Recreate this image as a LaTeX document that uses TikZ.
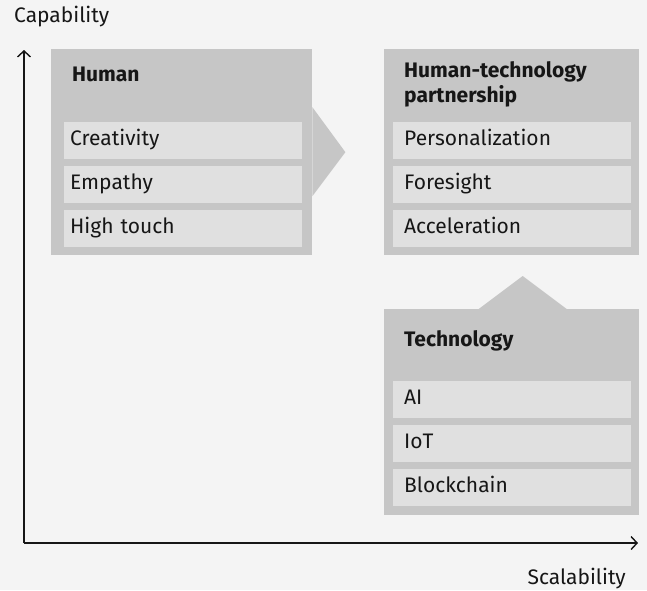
\documentclass[tikz,border=0pt]{standalone}
\usepackage{fontspec}
\setmainfont{Fira Sans}
\usetikzlibrary{arrows.meta}
\definecolor{bgcol}{HTML}{F4F4F4}
\definecolor{groupcol}{HTML}{C6C6C6}
\definecolor{itemcol}{HTML}{E0E0E0}
\definecolor{inkcol}{HTML}{161616}
\begin{document}
\begin{tikzpicture}[x=1pt, y=-1pt, >={Straight Barb[length=6pt,width=13pt]}]
        \tikzstyle{group}=[fill=groupcol, anchor=north west, minimum width=255pt, minimum height=206pt, inner sep=0pt]
        \tikzstyle{item}=[fill=itemcol, anchor=north west, minimum width=238pt, minimum height=37pt, text height=14pt, text depth=4pt, align=left, font=\fontsize{21}{24}\selectfont, text=inkcol]
        \tikzstyle{title}=[anchor=base west, inner sep=0pt, align=left, font=\fontsize{21}{25}\selectfont\bfseries, text=inkcol]
        \tikzstyle{axislabel}=[inner sep=0pt, font=\fontsize{21}{24}\selectfont, text=inkcol]

        \fill[bgcol] (0,0) rectangle (647,590);
        \useasboundingbox (0,0) rectangle (647,590);

        % groups, with their pointers
        \node[group, minimum width=261pt](human) at (51,49){};
        \fill[groupcol] (human.east) ++(0,-45) -- ++(33,45) -- ++(-33,44) -- cycle;
        \node[group](partner) at (384,49){};
        \node[group](tech) at (384,309){};
        \fill[groupcol] (tech.north) ++(-33,0) -- ++(44,-33) -- ++(44,33) -- cycle;

        \node[title](humantitle) at (72,81){Human};
        \node[title, anchor=north west, text depth=0pt](partnertitle) at (404,61){Human-technology\\partnership};
        \node[title](techtitle) at (404,346){Technology};

        \node[item, text width=226pt, inner xsep=6pt](creativity) at (64,122){Creativity};
        \node[item, text width=226pt, inner xsep=6pt](empathy) at (64,166){Empathy};
        \node[item, text width=226pt, inner xsep=6pt](hightouch) at (64,210){High touch};

        \node[item, text width=216pt, inner xsep=11pt](personal) at (393,122){Personalization};
        \node[item, text width=216pt, inner xsep=11pt](foresight) at (393,166){Foresight};
        \node[item, text width=216pt, inner xsep=11pt](accel) at (393,210){Acceleration};

        \node[item, text width=216pt, inner xsep=11pt](ai) at (393,381){AI};
        \node[item, text width=216pt, inner xsep=11pt](iot) at (393,425){IoT};
        \node[item, text width=216pt, inner xsep=11pt](chain) at (393,469){Blockchain};

        % axes
        \coordinate(origin) at (24,543);
        \coordinate(ytip) at (24,50);
        \coordinate(xtip) at (638,543);
        \draw[->, inkcol, line width=1.4pt] (origin) -- (ytip);
        \draw[->, inkcol, line width=1.4pt] (origin) -- (xtip);

        \node[axislabel, anchor=base west](ylabel) at (14,22){Capability};
        \node[axislabel, anchor=base east](xlabel) at (626,584){Scalability};

        \end{tikzpicture}
\end{document}
